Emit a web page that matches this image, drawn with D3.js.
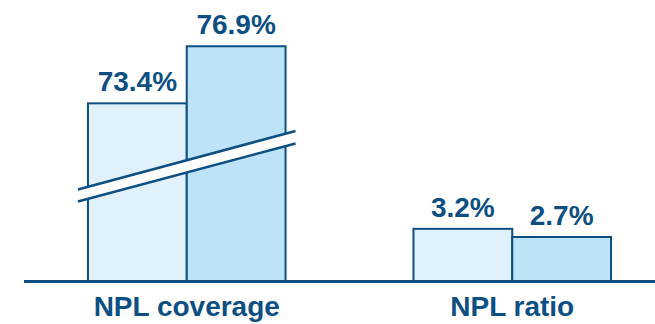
<!DOCTYPE html>
<html>
<head>
<meta charset="utf-8">
<script src="https://cdn.jsdelivr.net/npm/d3@7"></script>
<style>
  html, body { margin: 0; padding: 0; background: #ffffff; }
  svg { display: block; }
  text { font-family: "Liberation Sans", Arial, sans-serif; font-weight: bold; }
</style>
</head>
<body>
<svg id="chart" width="655" height="324"></svg>
<script>
// Asset-quality metrics, two periods each
const categories = ["NPL coverage", "NPL ratio"];
const periods = ["prior", "current"];
const coverageValues = [73.4, 76.9];
const ratioValues = [3.2, 2.7];
const valueLabels = [["73.4%", "76.9%"], ["3.2%", "2.7%"]];

const dataRows = [
  { category: categories[0], values: coverageValues, labels: valueLabels[0], broken: true },
  { category: categories[1], values: ratioValues, labels: valueLabels[1], broken: false }
];

const width = 655, height = 324;
const baseY = 281;
const navy = "#0d4f82";
const fills = ["#e1f1fc", "#bde3f8"];

const svg = d3.select("#chart");

// Broken value axis: the span between 5% and 67.5% is collapsed to zero height
const pxPerUnit = 16.3;
const breakLo = 5, breakHi = 67.5, maxV = 79;
const yLo = baseY - breakLo * pxPerUnit;
const y = d3.scaleLinear()
  .domain([0, breakLo, breakHi, maxV])
  .range([baseY, yLo, yLo, yLo - (maxV - breakHi) * pxPerUnit]);

const x = d3.scaleBand()
  .domain(categories)
  .range([24, 675])
  .paddingInner(0.393)
  .paddingOuter(0.1965);

const xs = d3.scaleBand()
  .domain(periods)
  .range([0, x.bandwidth()]);

const groups = svg.selectAll("g.group")
  .data(dataRows)
  .enter().append("g")
  .attr("class", "group")
  .attr("transform", d => `translate(${x(d.category)},0)`);

groups.selectAll("rect")
  .data(d => d.values.map((v, i) => ({ v, i })))
  .enter().append("rect")
  .attr("x", d => xs(periods[d.i]))
  .attr("y", d => y(d.v))
  .attr("width", xs.bandwidth())
  .attr("height", d => baseY - y(d.v))
  .attr("fill", d => fills[d.i])
  .attr("stroke", navy)
  .attr("stroke-width", 2);

groups.selectAll("text.val")
  .data(d => d.values.map((v, i) => ({ v, i, label: d.labels[i] })))
  .enter().append("text")
  .attr("class", "val")
  .attr("x", d => xs(periods[d.i]) + xs.bandwidth() / 2)
  .attr("y", d => y(d.v) - 12)
  .attr("text-anchor", "middle")
  .attr("font-size", 28)
  .attr("fill", navy)
  .text(d => d.label);

// Break marker across the coverage bars
const brokenRow = dataRows.find(d => d.broken);
const bx0 = x(brokenRow.category) - 10;
const bx1 = x(brokenRow.category) + x.bandwidth() + 10;
const upper = [[bx0, 189.5], [bx1, 131]];
const lower = [[bx0, 201.5], [bx1, 143.5]];
svg.append("path")
  .attr("d", d3.line()([upper[0], upper[1], lower[1], lower[0]]) + "Z")
  .attr("fill", "#ffffff");
[upper, lower].forEach(seg => {
  svg.append("path")
    .attr("d", d3.line()(seg))
    .attr("stroke", navy)
    .attr("stroke-width", 2.5)
    .attr("fill", "none");
});

// Baseline
svg.append("line")
  .attr("x1", 24).attr("x2", width)
  .attr("y1", baseY + 0.5).attr("y2", baseY + 0.5)
  .attr("stroke", navy)
  .attr("stroke-width", 2.8);

// Category labels
svg.selectAll("text.cat")
  .data(categories)
  .enter().append("text")
  .attr("class", "cat")
  .attr("x", d => x(d) + x.bandwidth() / 2)
  .attr("y", 316)
  .attr("text-anchor", "middle")
  .attr("font-size", 28)
  .attr("fill", navy)
  .text(d => d);
</script>
</body>
</html>
